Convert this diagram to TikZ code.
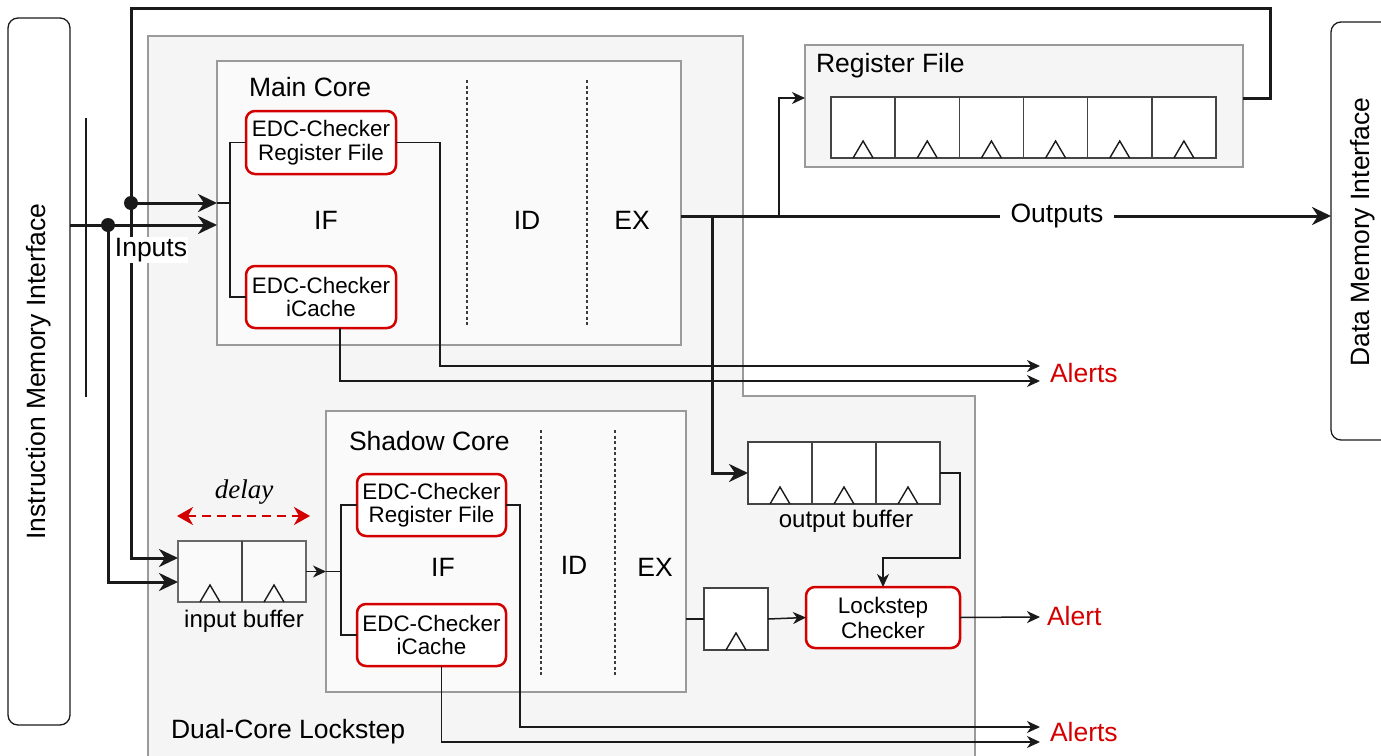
\documentclass[tikz,border=0pt]{standalone}
\usepackage{fontspec}
\setmainfont{Liberation Sans}
\newfontfamily\delayfont{Liberation Serif}
\usetikzlibrary{calc,arrows.meta}
\definecolor{alertred}{HTML}{D40000}
\definecolor{lsbg}{HTML}{F5F5F5}
\definecolor{corebg}{HTML}{FAFAFA}
\definecolor{boxgray}{HTML}{9A9A9A}
\definecolor{wire}{HTML}{1A1A1A}
\definecolor{celledge}{HTML}{444444}
\newcommand{\flopcells}[2]{%
  \foreach \k in {1,...,#2}{%
    \pgfmathsetmacro{\flopA}{(\k-0.5)/#2}%
    \draw[clkline] ($(#1.south west)!\flopA!(#1.south east)+(-10,0)$) -- ++(10,-17) -- ++(10,17);
  }%
  \ifnum#2>1
  \foreach \k in {2,...,#2}{%
    \pgfmathsetmacro{\flopB}{(\k-1)/#2}%
    \draw[cellline] ($(#1.south west)!\flopB!(#1.south east)$) -- ($(#1.north west)!\flopB!(#1.north east)$);
  }%
  \fi
}
\begin{document}
\begin{tikzpicture}[x=1pt,y=-1pt,
  every node/.style={font=\fontsize{26.5}{30}\selectfont, inner sep=0pt, outer sep=0pt},
  lsregion/.style={draw=boxgray, fill=lsbg, line width=1.5pt},
  corebox/.style={draw=boxgray, fill=corebg, line width=1.5pt},
  membox/.style={draw=wire, fill=white, line width=1.3pt, rounded corners=10pt},
  edcbox/.style={draw=alertred, fill=white, line width=2.5pt, rounded corners=9pt, align=center,
    font=\fontsize{22.4}{23.5}\selectfont},
  flopbox/.style={draw=celledge, fill=white, line width=1.5pt},
  cellline/.style={draw=celledge, line width=1.5pt},
  clkline/.style={draw=wire, line width=1.4pt},
  stageline/.style={draw=wire!85, line width=1.5pt, dash pattern=on 3pt off 2.5pt},
  thk/.style={draw=wire, line width=3pt},
  thn/.style={draw=wire, line width=1.5pt},
  thkarr/.style={thk, -{Stealth[length=19pt,width=18pt,inset=6pt]}},
  thnarr/.style={thn, -{Stealth[length=13pt,width=12pt,inset=4pt]}},
  alerttext/.style={text=alertred, anchor=west},
  buflabel/.style={font=\fontsize{24}{28}\selectfont}
]
\useasboundingbox (0,0) rectangle (1381,755);

% Dual-core lockstep region
\draw[lsregion] (148,36) -- (743,36) -- (743,396) -- (975,396) -- (975,775) -- (148,775) -- cycle;
\node[anchor=west] (tdcl) at (171,732) {Dual-Core Lockstep};

% memory interfaces
\node[membox, minimum width=62pt, minimum height=707pt] (imi) at (39,371.5) {};
\node[rotate=90] (timi) at (imi.center) {Instruction Memory Interface};
\node[membox, minimum width=64pt, minimum height=418pt] (dmi) at (1363,231) {};
\node[rotate=90] (tdmi) at (1363,232) {Data Memory Interface};
\draw[line width=1.3pt, draw=wire] (86,118) -- (86,397);

% register file
\node[lsregion, minimum width=438pt, minimum height=122pt] (regfile) at (1024,106) {};
\node[anchor=west] (trf) at (816,66) {Register File};
\node[flopbox, minimum width=385pt, minimum height=61pt] (regs) at (1023.5,127.5) {};
\flopcells{regs}{6}

% main core
\node[corebox, minimum width=464pt, minimum height=284pt] (main) at (449,203) {};
\node[anchor=west] (tmain) at (249,87) {Main Core};
\node[edcbox, minimum width=150pt, minimum height=63pt] (rfA) at (321,142.5) {EDC-Checker\\Register File};
\node[edcbox, minimum width=150pt, minimum height=62pt] (icA) at (321,297) {EDC-Checker\\iCache};
\node (ifA) at (326,220) {IF};
\node (idA) at (527,220) {ID};
\node (exA) at (632,220) {EX};
\draw[stageline] (467,80) -- (467,327);
\draw[stageline] (587,80) -- (587,327);

% shadow core
\node[corebox, minimum width=360pt, minimum height=281pt] (shadow) at (506,551.5) {};
\node[anchor=west] (tshadow) at (349,441) {Shadow Core};
\node[edcbox, minimum width=149pt, minimum height=62pt] (rfB) at (431.5,505) {EDC-Checker\\Register File};
\node[edcbox, minimum width=149pt, minimum height=62pt] (icB) at (431.5,635) {EDC-Checker\\iCache};
\node (ifB) at (443,567) {IF};
\node (idB) at (574,565) {ID};
\node (exB) at (655,567) {EX};
\draw[stageline] (541,430) -- (541,675);
\draw[stageline] (615,430) -- (615,675);

% buffers
\node[flopbox, draw=celledge!80, fill=corebg, minimum width=128pt, minimum height=61pt] (inbuf) at (242,571.5) {};
\flopcells{inbuf}{2}
\node[buflabel] (tinbuf) at (244,621) {input buffer};
\node[flopbox, minimum width=192pt, minimum height=62pt] (outbuf) at (844,473) {};
\flopcells{outbuf}{3}
\node[buflabel] (toutbuf) at (846,521) {output buffer};
\node[flopbox, minimum width=64pt, minimum height=62pt] (reg1) at (736,619) {};
\flopcells{reg1}{1}
\node[edcbox, minimum width=154pt, minimum height=61pt, font=\fontsize{22.5}{25}\selectfont] (lsc) at (883,617.5) {Lockstep\\Checker};

% delay
\coordinate (dl) at (177,516);
\coordinate (dr) at (310,516);
\draw[draw=alertred, line width=2.5pt, dash pattern=on 9pt off 6pt,
  {Stealth[length=16pt,width=18pt,inset=5pt]}-{Stealth[length=16pt,width=18pt,inset=5pt]}] (dl) -- (dr);
\node[font=\delayfont\itshape\fontsize{27}{30}\selectfont] (tdelay) at (244,492) {delay};

% alert labels
\node[alerttext] (alertsA) at (1050,373) {Alerts};
\node[alerttext] (alertL) at (1047,616) {Alert};
\node[alerttext] (alertsB) at (1050,732) {Alerts};
\coordinate (aA1) at (1040,366);
\coordinate (aA2) at (1040,381);
\coordinate (aL) at (1040,617);
\coordinate (aB1) at (1040,727);
\coordinate (aB2) at (1040,742);

% inputs
\coordinate (j1) at (108,225);
\coordinate (j2) at (131,203);
\coordinate (fbtop) at (1270,8);
\draw[thkarr] ($(regfile.east)+(0,-8)$) -| (fbtop) -| (j2) |- ($(inbuf.west)+(0,-13.5)$);
\draw[thkarr] (imi.east |- j1) -- (main.west |- j1);
\draw[thkarr] (j2) -- (main.west);
\draw[thkarr] (j1) |- ($(inbuf.west)+(0,10.5)$);
\fill[wire] (j1) circle (7pt);
\fill[wire] (j2) circle (7pt);
\node[fill=white, inner sep=1pt] (tinputs) at (151,250) {Inputs};

% main core internal wiring
\coordinate (brA) at (230,203);
\draw[thn] (main.west) -- (brA);
\draw[thn] (rfA.west) -| (brA) |- (icA.west);
\draw[thnarr] (rfA.east) -- ++(44,0) |- (aA1);
\draw[thnarr] ($(icA.south)+(19,0)$) |- (aA2);

% outputs
\node[inner xsep=11pt] (outp) at (1057,216) {Outputs};
\coordinate (b2) at (712,216);
\coordinate (b1) at (779,216);
\draw[thk] ($(main.east)+(0,13)$) -- (outp.west);
\draw[thkarr] (outp.east) -- (dmi.west |- outp);
\draw[thnarr] (b1) |- ($(regfile.west)+(0,-8)$);
\draw[thkarr] (b2) |- (outbuf.west);
\draw[thnarr] (outbuf.east) -- ++(20,0) -- ++(0,85) -| (lsc.north);

% shadow core wiring
\coordinate (brB) at (341,571.5);
\draw[thnarr] (inbuf.east) -- (inbuf.east -| shadow.west);
\draw[thn] (inbuf.east -| shadow.west) -- (brB);
\draw[thn] (rfB.west) -| (brB) |- (icB.west);
\draw[thnarr] (rfB.east) -- ++(14,0) |- (aB1);
\draw[thnarr] ($(icB.south)+(10,0)$) |- (aB2);
\draw[thn] (reg1.west -| shadow.east) -- (reg1.west);
\draw[thnarr] (reg1.east) -- (lsc.west);
\draw[thnarr] (lsc.east) -- (aL);
\end{tikzpicture}
\end{document}
